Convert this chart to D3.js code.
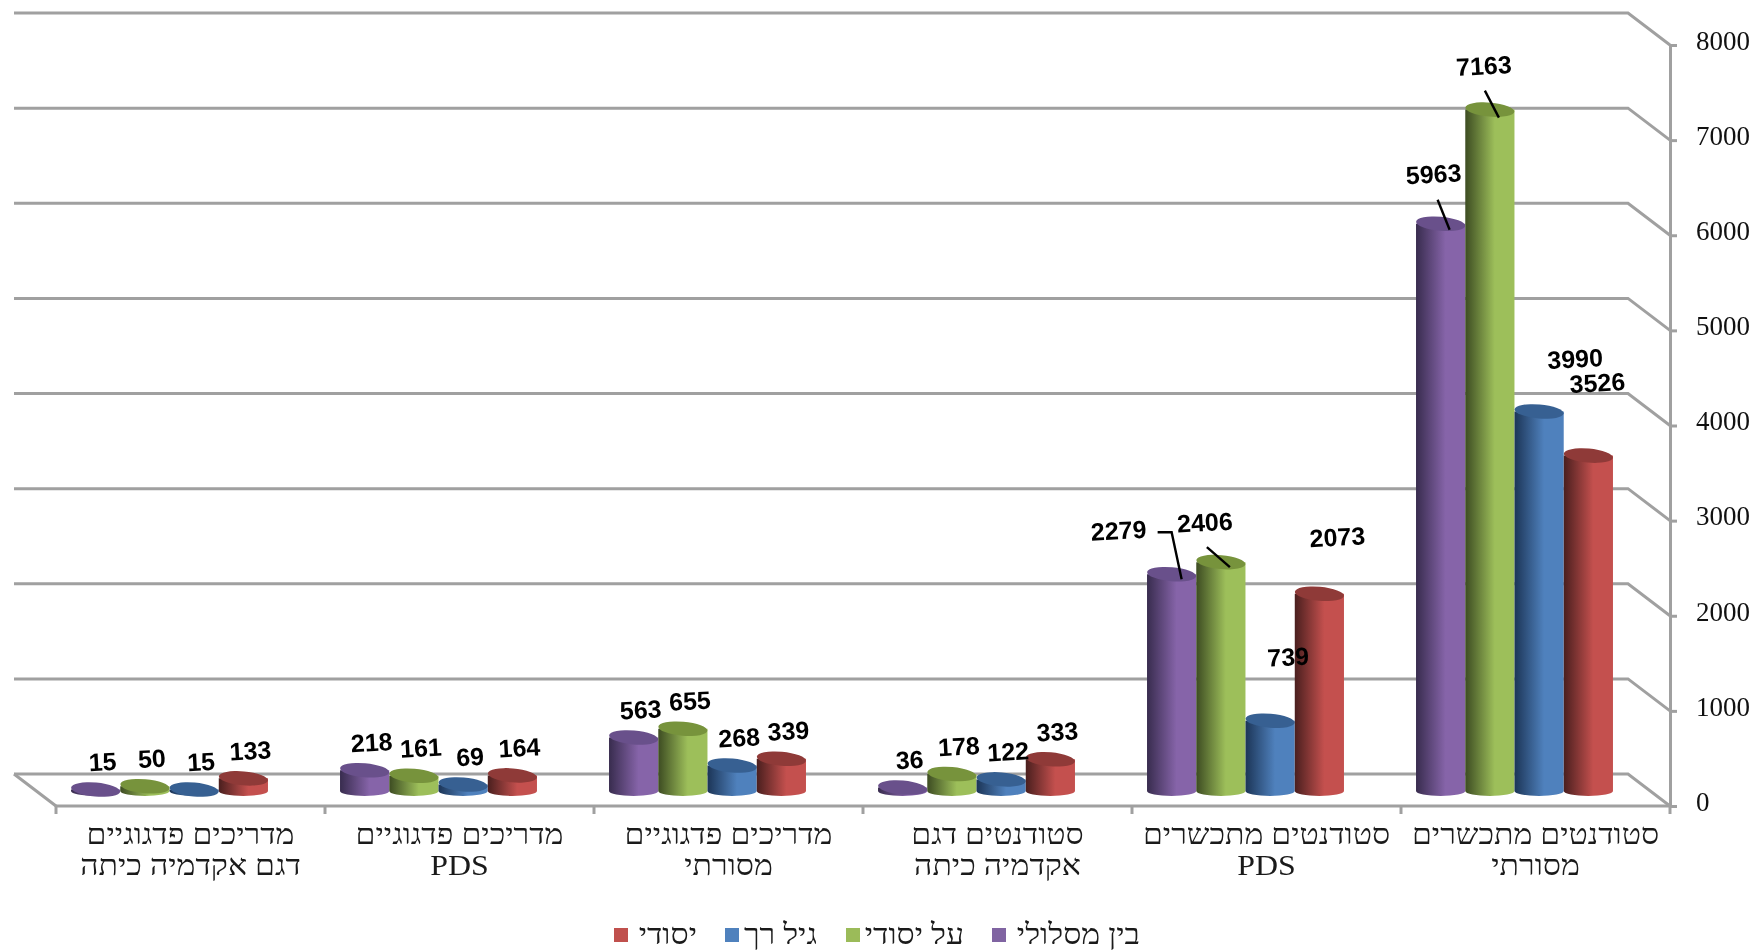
<!DOCTYPE html>
<html><head><meta charset="utf-8">
<script src="https://cdn.jsdelivr.net/npm/d3@7/dist/d3.min.js"></script>
<style>html,body{margin:0;padding:0;background:#fff}svg{display:block;filter:blur(.6px)}</style>
</head><body><svg id="c" width="1752" height="950"></svg>
<script>
// Data
const categories = [
  ["סטודנטים מתכשרים","מסורתי"],
  ["סטודנטים מתכשרים","PDS"],
  ["סטודנטים דגם","אקדמיה כיתה"],
  ["מדריכים פדגוגיים","מסורתי"],
  ["מדריכים פדגוגיים","PDS"],
  ["מדריכים פדגוגיים","דגם אקדמיה כיתה"]
];
const seriesNames = ["בין מסלולי","על יסודי","גיל רך","יסודי"];
const binMaslul = [5963,2279,36,563,218,15];
const alYesodi  = [7163,2406,178,655,161,50];
const gilRach   = [3990,739,122,268,69,15];
const yesodi    = [3526,2073,333,339,164,133];
const seriesValues = [binMaslul,alYesodi,gilRach,yesodi];
const yTicks = [0,1000,2000,3000,4000,5000,6000,7000,8000];

// Appearance and layout
const palette = [
  {dark:"#382c4e",main:"#8664a9",top:"#69508b",legend:"#8064a2"},
  {dark:"#3d4c22",main:"#9dbf5a",top:"#77933c",legend:"#9bbb59"},
  {dark:"#1c3557",main:"#4f81bd",top:"#376092",legend:"#4f81bd"},
  {dark:"#4a1f1e",main:"#c4504e",top:"#8f3a38",legend:"#c0504d"}
];
const depth = {dx:42, dy:32};
const barRx = 24.6, barRy = 7, barBottomRy = 5, tilt = 5;
const hebrewStretch = 1.1;
const legendItems = [ // series index, swatch x, text right edge
  {s:0,x:992,tx:1140},{s:1,x:846,tx:964},{s:2,x:725,tx:817},{s:3,x:614,tx:697}
];
// Hand-moved data labels in the original, keyed "category:series"
const labelNudge = {
  "0:0":[-14,-22],"0:1":[-13,-16],"0:2":[29,-25],"0:3":[2,-45],
  "1:0":[-60,-16],"1:1":[-23,-12],"1:2":[11,-36],"1:3":[11,-29]
};
const leaders = {
  "0:0":[[-3,-24],[9,6]],
  "0:1":[[-5,-19],[9,8]],
  "1:0":[[-14,-42],[0,-42],[10,5]],
  "1:1":[[-14,-15],[9,5]]
};

const svg = d3.select("#c");
const plot = {left:56,right:1670,top:45,bottom:806};
const y = d3.scaleLinear().domain([0,8000]).range([plot.bottom,plot.top]);
const x = d3.scaleBand().domain(d3.range(categories.length)).range([plot.right,plot.left]);
const xs = d3.scaleBand().domain(d3.range(seriesNames.length)).range([0,197]);
const grey = "#a0a0a0";

const defs = svg.append("defs");
palette.forEach((p,i)=>{
  const g = defs.append("linearGradient").attr("id","cyl"+i).attr("x1",0).attr("x2",1).attr("y1",0).attr("y2",0);
  g.append("stop").attr("offset","0%").attr("stop-color",p.dark);
  g.append("stop").attr("offset","60%").attr("stop-color",p.main);
  g.append("stop").attr("offset","100%").attr("stop-color",p.main);
});

// Walls
const walls = svg.append("g").attr("fill","none").attr("stroke",grey).attr("stroke-width",3);
yTicks.forEach(t=>{
  const yy=y(t);
  walls.append("path").attr("d",d3.line()([
    [plot.left-depth.dx,yy-depth.dy],[plot.right-depth.dx,yy-depth.dy],[plot.right,yy]
  ]));
});
walls.append("path").attr("d",d3.line()([[plot.left-depth.dx,y(0)-depth.dy],[plot.left,y(0)]]));

// Y axis
const yAxis = svg.append("g").attr("transform",`translate(${plot.right},0)`)
  .call(d3.axisRight(y).tickValues(yTicks).tickSize(7).tickPadding(19).tickFormat(d3.format("d")));
yAxis.selectAll("path,line").attr("stroke",grey).attr("stroke-width",3);
yAxis.selectAll("text").attr("font-family","Liberation Serif").attr("font-size",27).attr("fill","#111").attr("dy","0.16em");

// X axis
svg.append("line").attr("x1",plot.left).attr("x2",plot.right).attr("y1",y(0)).attr("y2",y(0)).attr("stroke",grey).attr("stroke-width",3);
const edges = x.domain().map(i=>x(i)).concat([plot.right]);
svg.append("g").selectAll("line").data(edges).join("line")
  .attr("x1",d=>d).attr("x2",d=>d).attr("y1",y(0)).attr("y2",y(0)+8).attr("stroke",grey).attr("stroke-width",3);
const catG = svg.append("g").attr("font-family","Liberation Serif").attr("font-size",29).attr("fill","#1a1a1a").attr("text-anchor","middle");
categories.forEach((lines,i)=>{
  lines.forEach((t,j)=>{
    catG.append("text")
      .attr("transform",`translate(${x(i)+x.bandwidth()/2},${844+j*31}) scale(${hebrewStretch},1)`).text(t);
  });
});

// Cylinders
const barX = (c,s)=> x(c)+x.bandwidth()/2-depth.dx/2-xs.range()[1]/2+xs(s)+xs.bandwidth()/2;
const barTop = v => y(v)-depth.dy/2+1;
const bars = svg.append("g");
categories.forEach((_,c)=>{
  seriesNames.forEach((_,s)=>{
    const v=seriesValues[s][c], cx=barX(c,s), yb=barTop(0), yt=barTop(v);
    bars.append("path").attr("fill",`url(#cyl${s})`)
      .attr("d",`M${cx-barRx},${yt}L${cx-barRx},${yb}A${barRx},${barBottomRy} 0 0 0 ${cx+barRx},${yb}L${cx+barRx},${yt}Z`);
    bars.append("ellipse").attr("cx",cx).attr("cy",yt).attr("rx",barRx).attr("ry",barRy)
      .attr("fill",palette[s].top).attr("transform",`rotate(${tilt} ${cx} ${yt})`);
  });
});

// Leaders and data labels
const labels = svg.append("g");
categories.forEach((_,c)=>{
  seriesNames.forEach((_,s)=>{
    const v=seriesValues[s][c], cx=barX(c,s), yt=barTop(v), key=c+":"+s;
    if(leaders[key]) labels.append("path").attr("fill","none").attr("stroke","#000").attr("stroke-width",2.4)
      .attr("d",d3.line()(leaders[key].map(p=>[cx+p[0],yt+p[1]])));
    const n=labelNudge[key]||[0,0];
    const lx=cx+7+n[0], ly=yt-28+n[1];
    labels.append("text").attr("x",lx).attr("y",ly).attr("dy","0.36em")
      .attr("text-anchor","middle").attr("font-family","Liberation Sans").attr("font-weight",700)
      .attr("font-size",25).attr("fill","#000").attr("transform",`rotate(-3 ${lx} ${ly})`).text(v);
  });
});

// Legend
const leg = svg.append("g");
legendItems.forEach(d=>{
  leg.append("rect").attr("x",d.x).attr("y",928).attr("width",14).attr("height",14).attr("fill",palette[d.s].legend);
  leg.append("text").attr("transform",`translate(${d.tx},944) scale(${hebrewStretch},1)`).attr("text-anchor","end")
    .attr("font-family","Liberation Serif").attr("font-size",29).attr("fill","#1a1a1a").text(seriesNames[d.s]);
});
</script></body></html>
